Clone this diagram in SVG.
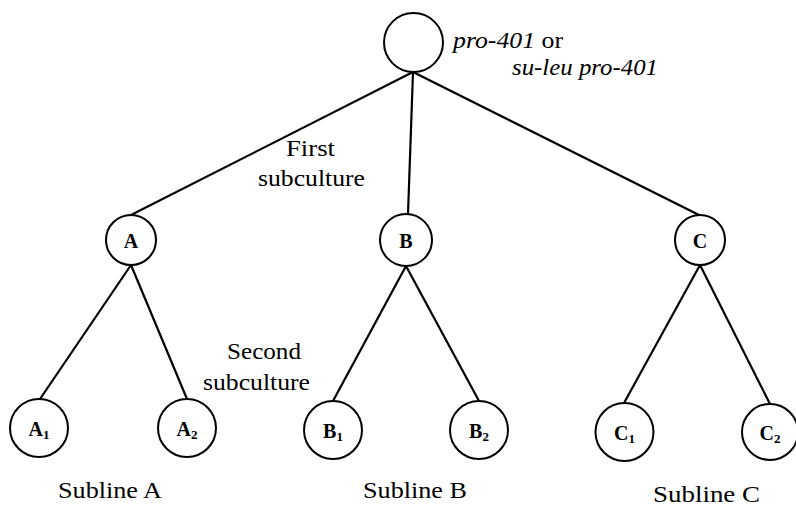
<svg xmlns="http://www.w3.org/2000/svg" width="796" height="508" viewBox="0 0 796 508">
<style>
circle{fill:#fff;stroke:#000;stroke-width:2}
line{stroke:#000;stroke-width:2.2}
text{font-family:"Liberation Serif","DejaVu Serif",serif;fill:#000;font-size:23px}
.lbl{font-size:20px;font-weight:bold;text-anchor:middle}
.sub{font-size:13px}
.it{font-style:italic}
</style>
<rect width="796" height="508" fill="#fff"/>
<g id="connectors">
<line x1="413" y1="72" x2="131" y2="215"/>
<line x1="413" y1="72" x2="408" y2="214"/>
<line x1="413" y1="72" x2="699" y2="215"/>
<line x1="131" y1="265" x2="40" y2="399"/>
<line x1="131" y1="265" x2="187" y2="399"/>
<line x1="406" y1="266" x2="333" y2="401"/>
<line x1="406" y1="266" x2="479" y2="401"/>
<line x1="700" y1="265" x2="624" y2="403"/>
<line x1="700" y1="265" x2="770" y2="404"/>
</g>
<g id="root"><circle cx="413.5" cy="42.5" r="29.5"/>
<text x="453" y="48" textLength="110" lengthAdjust="spacingAndGlyphs"><tspan class="it">pro-401</tspan> or</text>
<text x="512" y="75" class="it" textLength="146" lengthAdjust="spacingAndGlyphs">su-leu pro-401</text></g>
<g id="A"><circle cx="131" cy="240" r="25"/><text class="lbl" x="131" y="248">A</text></g>
<g id="B"><circle cx="406" cy="240" r="26"/><text class="lbl" x="406" y="248">B</text></g>
<g id="C"><circle cx="700" cy="240" r="25"/><text class="lbl" x="700" y="248">C</text></g>
<g id="A1"><circle cx="39" cy="428" r="29"/><text class="lbl" x="39" y="436">A<tspan class="sub" dy="3">1</tspan></text></g>
<g id="A2"><circle cx="187" cy="428" r="29"/><text class="lbl" x="187" y="436">A<tspan class="sub" dy="3">2</tspan></text></g>
<g id="B1"><circle cx="333" cy="430" r="29"/><text class="lbl" x="333" y="438">B<tspan class="sub" dy="3">1</tspan></text></g>
<g id="B2"><circle cx="479" cy="430" r="29"/><text class="lbl" x="479" y="438">B<tspan class="sub" dy="3">2</tspan></text></g>
<g id="C1"><circle cx="624.5" cy="432" r="29"/><text class="lbl" x="624.5" y="440">C<tspan class="sub" dy="3">1</tspan></text></g>
<g id="C2"><circle cx="770" cy="432" r="28"/><text class="lbl" x="770" y="440">C<tspan class="sub" dy="3">2</tspan></text></g>
<g id="labels">
<text x="286" y="156" textLength="49" lengthAdjust="spacingAndGlyphs">First</text>
<text x="258" y="186" textLength="107" lengthAdjust="spacingAndGlyphs">subculture</text>
<text x="227" y="359" textLength="74" lengthAdjust="spacingAndGlyphs">Second</text>
<text x="203" y="390" textLength="107" lengthAdjust="spacingAndGlyphs">subculture</text>
<text x="58" y="498" textLength="104" lengthAdjust="spacingAndGlyphs">Subline A</text>
<text x="363" y="498" textLength="104" lengthAdjust="spacingAndGlyphs">Subline B</text>
<text x="653" y="502" textLength="107" lengthAdjust="spacingAndGlyphs">Subline C</text>
</g>
</svg>
